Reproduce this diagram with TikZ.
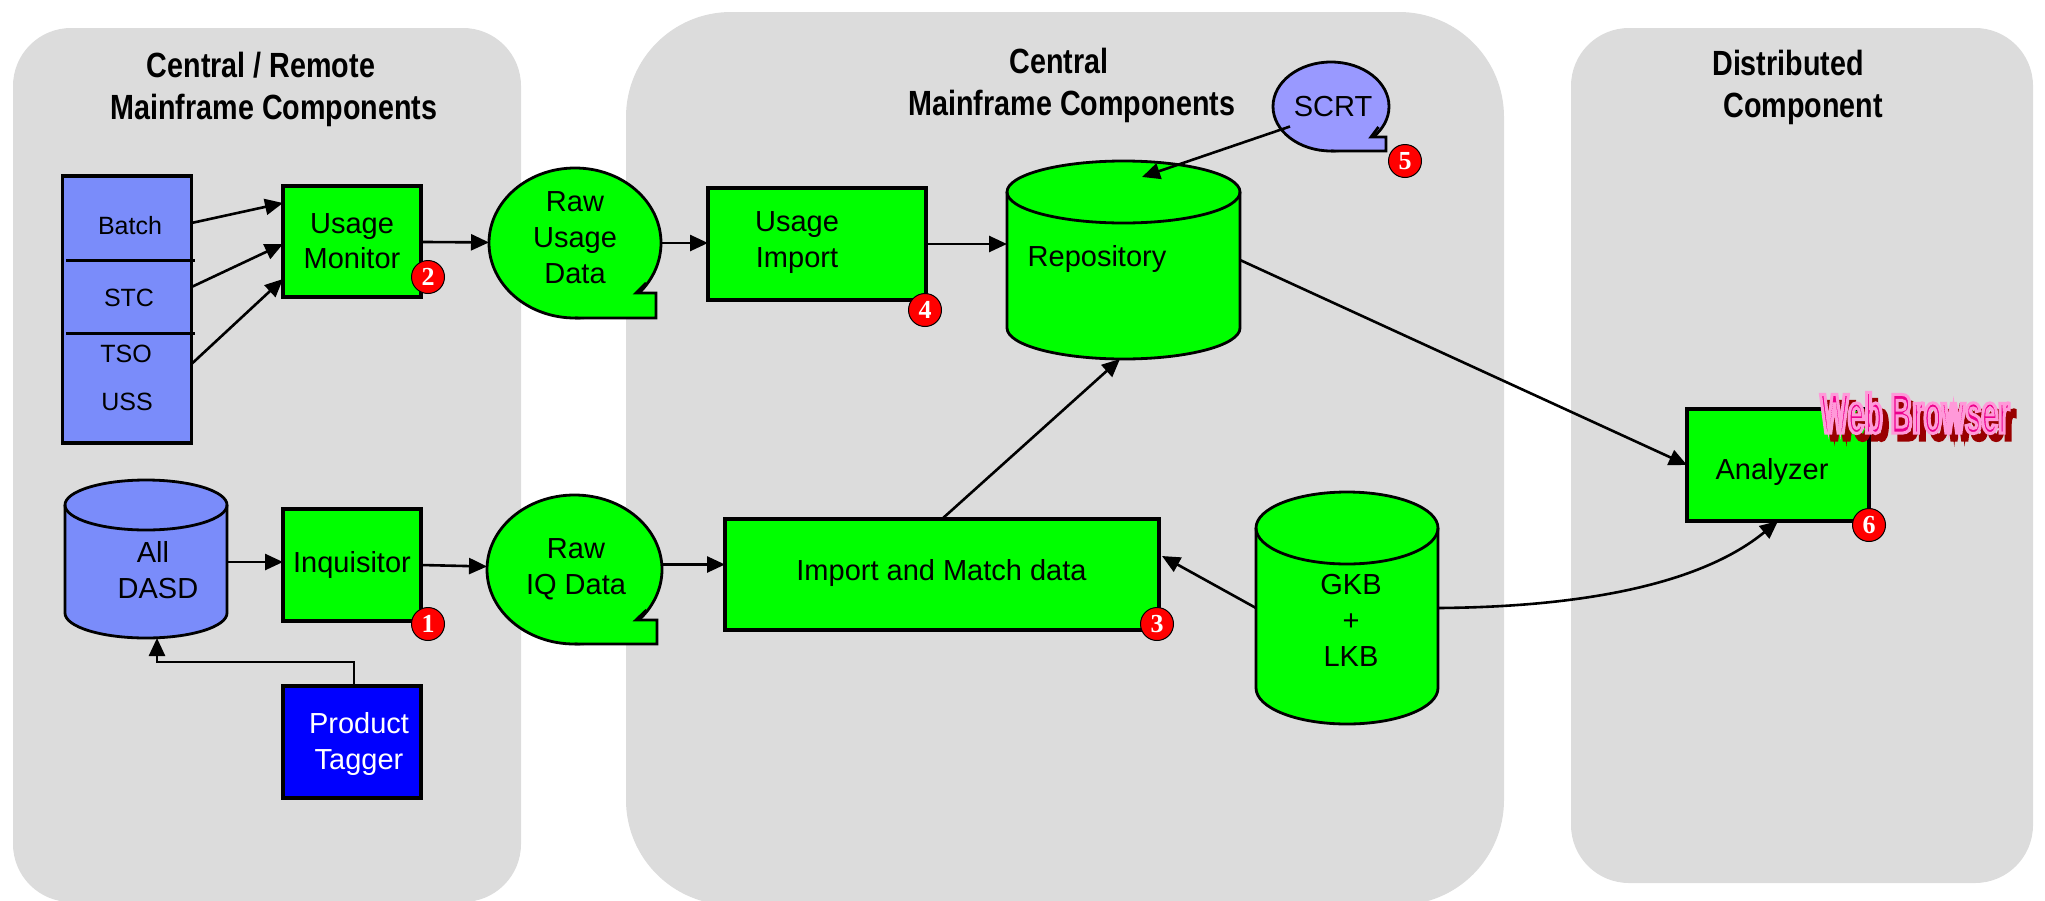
\documentclass[tikz,border=0pt]{standalone}
\usepackage{fontspec}
\setmainfont{Liberation Sans}
\newfontfamily\headfont[FakeStretch=0.82]{Liberation Sans Bold}
\newfontfamily\webfont[FakeStretch=0.53]{Liberation Sans Bold}
\newfontfamily\badgefont{Liberation Serif Bold}
\usetikzlibrary{shapes.geometric,arrows.meta,positioning}
\definecolor{panelgray}{HTML}{DCDCDC}
\definecolor{stackblue}{HTML}{7A8CFA}
\definecolor{scrtblue}{HTML}{9999FF}
\definecolor{boxgreen}{HTML}{00FF00}
\definecolor{taggerblue}{HTML}{0000FF}
\newcommand{\strokedtext}[2]{\special{pdf:code 2 Tr 3 w #1 RG}#2\special{pdf:code 0 Tr}}
\newcommand{\speechtail}[5]{%
\path[draw,fill=#2,line width=2.8pt] (#1.south) -- ++(#3,0) -- ++(0,-#4) -- ++(-#5,0) -- ++({0.5*#5},-10);}
\newcommand{\drumshape}[4]{%
\path[draw,fill=#2,line width=2.8pt] ([yshift=-#4pt]#1.north west) arc[start angle=180,end angle=0,x radius=#3pt,y radius=#4pt] -- ([yshift=#4pt]#1.south east) arc[start angle=0,end angle=-180,x radius=#3pt,y radius=#4pt] -- cycle;
\path[draw,line width=2.8pt] ([yshift=-#4pt]#1.north west) arc[start angle=180,end angle=360,x radius=#3pt,y radius=#4pt];}
\begin{document}
\begin{tikzpicture}[x=1pt,y=-1pt]
\tikzstyle{panel}=[rectangle,fill=panelgray,rounded corners=58pt,inner sep=0pt,outer sep=0pt]
\tikzstyle{heading}=[font=\headfont\fontsize{35}{42}\selectfont,align=center,inner sep=0pt]
\tikzstyle{lbl}=[font=\fontsize{29}{36}\selectfont,align=center,inner sep=0pt]
\tikzstyle{stacklbl}=[font=\fontsize{25}{30}\selectfont,inner sep=0pt]
\tikzstyle{box}=[rectangle,draw=black,line width=3.2pt,fill=boxgreen,outer sep=0pt,inner sep=0pt,font=\fontsize{29}{35}\selectfont,align=center]
\tikzstyle{bubble}=[ellipse,draw=black,line width=2.8pt,fill=boxgreen,outer sep=0pt,inner sep=0pt,font=\fontsize{29}{35}\selectfont]
\tikzstyle{disk}=[rectangle,outer sep=0pt,inner sep=0pt]
\tikzstyle{badge}=[circle,draw=black,line width=1pt,fill=red,text=white,minimum size=33pt,inner sep=0pt,font=\badgefont\fontsize{26}{26}\selectfont]
\tikzstyle{conn}=[line width=2.6pt,-{Triangle[length=18pt,width=16pt]}]
\useasboundingbox (0,0) rectangle (2045,900);
\node[panel,minimum width=508pt,minimum height=874pt] (leftpanel) at (267,465) {};
\node[panel,minimum width=878pt,minimum height=893pt,rounded corners=105pt] (midpanel) at (1065,458.5) {};
\node[panel,minimum width=462pt,minimum height=855pt] (rightpanel) at (1802,455.5) {};
\node[heading] (lefthead) at (274,89) {Central / Remote\hspace*{26pt}\\Mainframe Components};
\node[heading] (midhead) at (1072,85) {Central\hspace*{26pt}\\Mainframe Components};
\node[heading] (righthead) at (1803,87) {Distributed\hspace*{30pt}\\Component};
\node[box,fill=stackblue,minimum width=129pt,minimum height=267pt] (stack) at (127,309.5) {};
\coordinate (cutaleft) at (66,260);
\coordinate (cutaright) at (195,260);
\coordinate (cutbleft) at (66,333);
\coordinate (cutbright) at (195,333);
\draw[line width=3pt] (cutaleft) -- (cutaright);
\draw[line width=3pt] (cutbleft) -- (cutbright);
\node[stacklbl] (batch) at (130,226) {Batch};
\node[stacklbl] (stc) at (129,298) {STC};
\node[stacklbl] (tso) at (126,354) {TSO};
\node[stacklbl] (uss) at (127,402) {USS};
\node[box,minimum width=138pt,minimum height=111pt] (monitor) at (352,241.5) {Usage\\Monitor};
\node[bubble,minimum width=172pt,minimum height=150pt] (rawusage) at (575,243) {};
\speechtail{rawusage}{boxgreen}{81}{25}{20}
\node[lbl] (rawusagelbl) at (575,238) {Raw\\Usage\\Data};
\node[box,minimum width=218pt,minimum height=112pt] (usageimport) at (817,244) {};
\node[lbl] (usageimportlbl) at (797,243) {Usage\\Import};
\node[disk,minimum width=233pt,minimum height=198pt] (repo) at (1123.5,260) {};
\drumshape{repo}{boxgreen}{116.5}{31}
\node[lbl] (repolbl) at (1097,259) {Repository};
\node[bubble,fill=scrtblue,minimum width=116pt,minimum height=89pt] (scrt) at (1331,106.5) {};
\speechtail{scrt}{scrtblue}{55}{14}{15}
\node[lbl] (scrtlbl) at (1333,107) {SCRT};
\node[disk,minimum width=162pt,minimum height=158pt] (dasd) at (146,559) {};
\drumshape{dasd}{stackblue}{81}{25}
\node[lbl] (dasdlbl) at (158,570) {All\hspace*{10pt}\\DASD};
\node[box,minimum width=138pt,minimum height=112pt] (inquisitor) at (352,565) {Inquisitor};
\node[box,fill=taggerblue,minimum width=138pt,minimum height=112pt] (tagger) at (352,742) {};
\node[lbl,text=white] (taggerlbl) at (359,744) {Product\\Tagger};
\node[bubble,minimum width=175pt,minimum height=149pt] (rawiq) at (574.5,569.5) {};
\speechtail{rawiq}{boxgreen}{82.5}{24}{21}
\node[lbl] (rawiqlbl) at (576,569) {Raw\\IQ Data};
\node[box,minimum width=434pt,minimum height=111pt] (importmatch) at (942,574.5) {};
\node[lbl] (importmatchlbl) at (941.5,573) {Import and Match data};
\node[disk,minimum width=182pt,minimum height=232pt] (kb) at (1347,608) {};
\drumshape{kb}{boxgreen}{91}{36}
\node[lbl] (kblbl) at (1351,620) {GKB\\+\\LKB};
\node[box,minimum width=182pt,minimum height=112pt] (analyzer) at (1778,465) {};
\node[lbl] (analyzerlbl) at (1772,472) {Analyzer};
\node[font=\webfont\fontsize{56}{56}\selectfont,text=red!60!black,inner sep=0pt] (webshadow) at (1921,420) {\strokedtext{0.6 0 0}{Web Browser}};
\node[font=\webfont\fontsize{56}{56}\selectfont,text=magenta,inner sep=0pt] (webbrowser) at (1915,413) {\strokedtext{1 0.6 0.85}{Web Browser}};
\node[badge] (badgeone) at (428,624) {1};
\node[badge] (badgetwo) at (428,277) {2};
\node[badge] (badgethree) at (1157,624) {3};
\node[badge] (badgefour) at (925,310) {4};
\node[badge] (badgefive) at (1405,161) {5};
\node[badge] (badgesix) at (1869,525) {6};
\coordinate (tagbend) at (157,662);
\path[conn] ([yshift=86.5pt]stack.east) edge ([yshift=38.5pt]monitor.west) ;
\path[conn] ([yshift=22.5pt]stack.east) edge ([yshift=-2.5pt]monitor.west) ;
\path[conn] ([yshift=-54.5pt]stack.east) edge ([yshift=-37.5pt]monitor.west) ;
\path[conn] (monitor) edge (rawusage) ;
\path[conn] (rawusage.east) edge (rawusage.east -| usageimport.west) ;
\path[conn] (usageimport.east) edge (usageimport.east -| repo.west) ;
\path[conn] ([xshift=-41pt,yshift=-20pt]scrt.center) edge ([xshift=18.5pt,yshift=-16pt]repo.north) ;
\path[conn] (repo.east) edge (analyzer.west) ;
\path[conn] ([yshift=-3pt]dasd.east) edge ([yshift=3pt]inquisitor.west) ;
\path[conn] (inquisitor.east) edge ([yshift=3pt]rawiq.west) ;
\path[conn] ([yshift=5pt]rawiq.east) edge ([yshift=10pt]importmatch.west) ;
\path[conn] (importmatch.north) edge ([xshift=-3.5pt]repo.south) ;
\path[conn] (kb.west) edge ([xshift=3pt,yshift=18.5pt]importmatch.east) ;
\draw[conn] (kb.east) .. controls (1580,607) and (1700,585) .. (analyzer.south);
\draw[conn] ([xshift=2pt]tagger.north) |- (tagbend) -- ([xshift=11pt]dasd.south);
\end{tikzpicture}
\end{document}
